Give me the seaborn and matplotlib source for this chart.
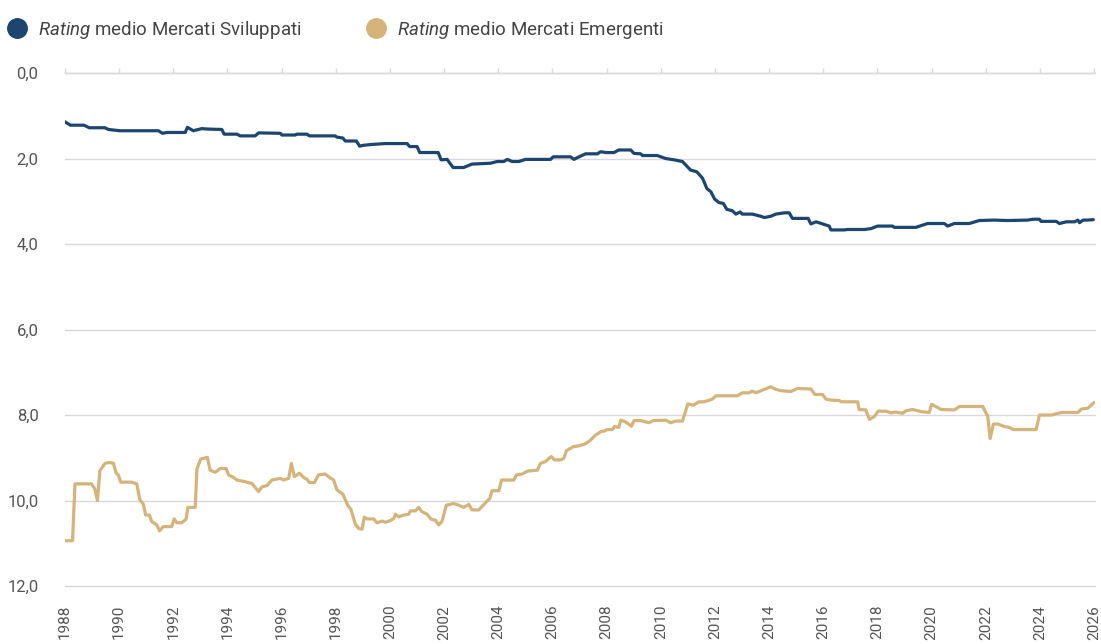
import pandas as pd
import matplotlib
matplotlib.use("Agg")
import matplotlib.pyplot as plt
from matplotlib.lines import Line2D
import seaborn as sns

# Rating medio Mercati Sviluppati (anno, rating)
dev_years = [1988.0, 1988.2, 1988.7, 1988.9, 1989.48, 1989.6, 1990.03, 1991.45, 1991.6, 1991.76,
             1992.44, 1992.52, 1992.74, 1993.05, 1993.24, 1993.79, 1993.88, 1994.35, 1994.47, 1995.02,
             1995.15, 1995.95, 1996.01, 1996.5, 1996.56, 1996.93, 1997.03, 1997.98, 1998.04, 1998.26,
             1998.35, 1998.76, 1998.88, 1999.03, 1999.34, 1999.83, 2000.63, 2000.73, 2001.0, 2001.1,
             2001.78, 2001.89, 2002.11, 2002.33, 2002.72, 2003.03, 2003.71, 2003.96, 2004.2, 2004.33,
             2004.51, 2004.76, 2005.0, 2005.93, 2006.03, 2006.67, 2006.79, 2006.98, 2007.22, 2007.66,
             2007.78, 2007.96, 2008.27, 2008.45, 2008.89, 2009.01, 2009.26, 2009.32, 2009.87, 2010.18,
             2010.49, 2010.8, 2010.92, 2011.1, 2011.33, 2011.54, 2011.7, 2011.85, 2011.99, 2012.15,
             2012.31, 2012.44, 2012.64, 2012.77, 2012.93, 2013.01, 2013.38, 2013.69, 2013.82, 2014.06,
             2014.25, 2014.56, 2014.74, 2014.86, 2015.44, 2015.54, 2015.73, 2015.97, 2016.22, 2016.28,
             2016.77, 2016.9, 2017.51, 2017.76, 2018.0, 2018.56, 2018.62, 2019.42, 2019.85, 2020.47,
             2020.59, 2020.84, 2021.39, 2021.76, 2022.32, 2022.81, 2023.55, 2023.74, 2023.98, 2024.04,
             2024.6, 2024.72, 2024.97, 2025.28, 2025.4, 2025.46, 2025.59, 2025.75, 2025.97]
dev_values = [1.14, 1.22, 1.22, 1.28, 1.28, 1.32, 1.35, 1.35, 1.41, 1.39,
              1.39, 1.27, 1.35, 1.30, 1.31, 1.32, 1.43, 1.43, 1.47, 1.47,
              1.40, 1.41, 1.45, 1.45, 1.43, 1.43, 1.47, 1.47, 1.50, 1.52,
              1.59, 1.59, 1.71, 1.69, 1.67, 1.65, 1.65, 1.72, 1.72, 1.86,
              1.86, 2.03, 2.02, 2.21, 2.21, 2.13, 2.11, 2.07, 2.07, 2.02,
              2.07, 2.07, 2.02, 2.02, 1.96, 1.96, 2.02, 1.96, 1.89, 1.89,
              1.84, 1.86, 1.86, 1.80, 1.80, 1.88, 1.89, 1.93, 1.93, 2.00,
              2.03, 2.07, 2.15, 2.27, 2.31, 2.46, 2.70, 2.78, 2.95, 3.03,
              3.05, 3.19, 3.22, 3.30, 3.25, 3.30, 3.30, 3.35, 3.38, 3.35,
              3.30, 3.27, 3.27, 3.40, 3.40, 3.53, 3.48, 3.53, 3.58, 3.67,
              3.67, 3.66, 3.66, 3.64, 3.58, 3.58, 3.61, 3.61, 3.52, 3.52,
              3.58, 3.52, 3.52, 3.45, 3.44, 3.45, 3.44, 3.42, 3.42, 3.47,
              3.47, 3.52, 3.48, 3.48, 3.44, 3.50, 3.44, 3.44, 3.43]

# Rating medio Mercati Emergenti (anno, rating)
em_years = [1988.0, 1988.28, 1988.37, 1988.98, 1989.05, 1989.1, 1989.2, 1989.29, 1989.48, 1989.64,
            1989.79, 1989.89, 1989.97, 1990.06, 1990.46, 1990.65, 1990.77, 1990.89, 1990.98, 1991.12,
            1991.2, 1991.39, 1991.49, 1991.63, 1991.94, 1992.03, 1992.13, 1992.31, 1992.47, 1992.54,
            1992.81, 1992.87, 1993.01, 1993.26, 1993.36, 1993.55, 1993.73, 1993.95, 1994.04, 1994.22,
            1994.35, 1994.65, 1994.9, 1995.15, 1995.27, 1995.46, 1995.64, 1995.95, 1996.07, 1996.26,
            1996.36, 1996.47, 1996.66, 1996.81, 1996.93, 1997.03, 1997.21, 1997.36, 1997.61, 1997.77,
            1997.92, 1998.04, 1998.26, 1998.44, 1998.56, 1998.72, 1998.84, 1998.97, 1999.05, 1999.15,
            1999.4, 1999.52, 1999.71, 1999.83, 2000.01, 2000.14, 2000.2, 2000.32, 2000.51, 2000.69,
            2000.76, 2000.94, 2001.06, 2001.18, 2001.37, 2001.52, 2001.68, 2001.8, 2001.92, 2002.08,
            2002.35, 2002.54, 2002.72, 2002.91, 2003.03, 2003.28, 2003.56, 2003.69, 2003.77, 2004.02,
            2004.12, 2004.57, 2004.67, 2004.88, 2005.09, 2005.44, 2005.56, 2005.74, 2005.95, 2006.08,
            2006.3, 2006.42, 2006.52, 2006.77, 2006.98, 2007.19, 2007.38, 2007.59, 2007.78, 2007.93,
            2008.02, 2008.21, 2008.29, 2008.45, 2008.52, 2008.7, 2008.92, 2009.01, 2009.26, 2009.56,
            2009.72, 2010.18, 2010.37, 2010.55, 2010.8, 2011.0, 2011.2, 2011.41, 2011.6, 2011.9,
            2012.03, 2012.83, 2013.01, 2013.26, 2013.38, 2013.51, 2014.06, 2014.25, 2014.43, 2014.8,
            2015.04, 2015.54, 2015.69, 2015.97, 2016.1, 2016.28, 2016.59, 2016.65, 2017.27, 2017.32,
            2017.57, 2017.7, 2017.88, 2018.03, 2018.31, 2018.5, 2018.68, 2018.93, 2019.05, 2019.3,
            2019.61, 2019.91, 2020.0, 2020.35, 2020.84, 2021.03, 2021.89, 2022.01, 2022.07, 2022.16,
            2022.28, 2022.45, 2022.69, 2022.87, 2023.0, 2023.86, 2023.98, 2024.42, 2024.54, 2024.79,
            2025.4, 2025.53, 2025.77, 2025.99]
em_values = [10.94, 10.94, 9.61, 9.61, 9.68, 9.72, 10.0, 9.30, 9.13, 9.11,
             9.13, 9.36, 9.40, 9.57, 9.57, 9.61, 9.99, 10.08, 10.34, 10.34,
             10.49, 10.57, 10.71, 10.61, 10.61, 10.43, 10.52, 10.52, 10.44, 10.16,
             10.16, 9.27, 9.03, 8.99, 9.29, 9.34, 9.25, 9.25, 9.40, 9.46,
             9.52, 9.56, 9.60, 9.79, 9.68, 9.65, 9.52, 9.48, 9.52, 9.48,
             9.13, 9.44, 9.36, 9.46, 9.50, 9.58, 9.58, 9.40, 9.38, 9.46,
             9.52, 9.75, 9.85, 10.11, 10.21, 10.55, 10.65, 10.67, 10.39, 10.43,
             10.43, 10.52, 10.48, 10.51, 10.47, 10.42, 10.32, 10.38, 10.34, 10.32,
             10.24, 10.24, 10.16, 10.26, 10.32, 10.44, 10.46, 10.57, 10.49, 10.11,
             10.07, 10.11, 10.16, 10.09, 10.22, 10.22, 10.03, 9.95, 9.77, 9.77,
             9.52, 9.52, 9.40, 9.38, 9.31, 9.29, 9.13, 9.09, 8.97, 9.05,
             9.05, 9.01, 8.83, 8.74, 8.72, 8.68, 8.60, 8.47, 8.39, 8.37,
             8.34, 8.34, 8.27, 8.29, 8.12, 8.16, 8.26, 8.13, 8.13, 8.18,
             8.13, 8.12, 8.18, 8.14, 8.14, 7.74, 7.77, 7.69, 7.69, 7.63,
             7.55, 7.55, 7.48, 7.48, 7.44, 7.48, 7.34, 7.40, 7.43, 7.45,
             7.38, 7.39, 7.52, 7.52, 7.63, 7.65, 7.66, 7.69, 7.69, 7.87,
             7.88, 8.10, 8.04, 7.91, 7.91, 7.95, 7.93, 7.96, 7.90, 7.87,
             7.92, 7.94, 7.75, 7.87, 7.88, 7.80, 7.80, 7.96, 8.02, 8.55,
             8.21, 8.21, 8.27, 8.29, 8.34, 8.34, 8.00, 8.00, 7.98, 7.94,
             7.94, 7.86, 7.84, 7.71]

series_names = ["Sviluppati", "Emergenti"]
series_colors = ["#1c4570", "#d4b47a"]
year_ticks = list(range(1988, 2027, 2))
rating_ticks = [0, 2, 4, 6, 8, 10, 12]

sns.set_style("white")
plt.rcParams["font.family"] = ["Roboto", "DejaVu Sans"]
plt.rcParams["mathtext.fontset"] = "custom"
plt.rcParams["mathtext.it"] = "Roboto:italic"
plt.rcParams["mathtext.rm"] = "Roboto"

df = pd.concat([
    pd.DataFrame({"Anno": dev_years, "Rating": dev_values, "Serie": series_names[0]}),
    pd.DataFrame({"Anno": em_years, "Rating": em_values, "Serie": series_names[1]}),
])

fig = plt.figure(figsize=(11.01, 6.44), dpi=100)
ax = fig.add_axes([0.059, 0.09, 0.936, 0.7966])

sns.lineplot(data=df, x="Anno", y="Rating", hue="Serie", palette=series_colors,
             estimator=None, sort=False, linewidth=2.3, legend=False, ax=ax)

grid_col = "#d9d9d9"
ax.set_xlim(1988, 2026.05)
ax.set_ylim(12, 0)
ax.set_yticks(rating_ticks)
ax.set_yticklabels([f"{v:.1f}".replace(".", ",") for v in rating_ticks])
ax.set_xticks(year_ticks)
ax.set_xticklabels([str(y) for y in year_ticks], rotation=90, va="top", ha="center")
ax.xaxis.set_ticks_position("top")
ax.tick_params(axis="x", top=True, bottom=False, labeltop=False, labelbottom=True,
               length=3.5, width=1, color=grid_col, pad=10, labelsize=11, labelcolor="#555555")
ax.tick_params(axis="y", length=0, pad=19, labelsize=12, labelcolor="#555555")
ax.yaxis.grid(True, color=grid_col, linewidth=1)
for gl in ax.get_ygridlines():
    gl.set_clip_on(False)
ax.xaxis.grid(False)
for side in ["left", "right", "bottom"]:
    ax.spines[side].set_visible(False)
ax.spines["top"].set_color(grid_col)
ax.spines["top"].set_linewidth(1)
ax.set_xlabel("")
ax.set_ylabel("")

handles = [Line2D([], [], marker="o", linestyle="", markersize=14, color=c) for c in series_colors]
labels = [r"$\it{Rating}$ medio Mercati Sviluppati", r"$\it{Rating}$ medio Mercati Emergenti"]
fig.legend(handles, labels, loc="upper left", bbox_to_anchor=(-0.017, 0.997), ncol=2,
           frameon=False, fontsize=13.5, handletextpad=0.1, columnspacing=3.0,
           labelcolor="#444444")

fig.savefig("out.png", dpi=100)
